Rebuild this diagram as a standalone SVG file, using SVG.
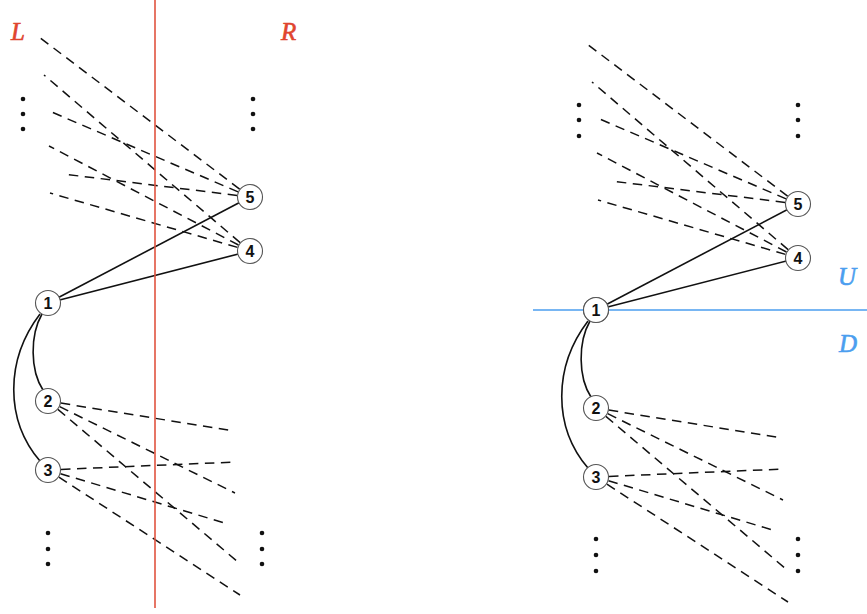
<svg xmlns="http://www.w3.org/2000/svg" width="867" height="614" viewBox="0 0 867 614">
<style>
.bg{fill:#ffffff}
.dash{fill:none;stroke:#111;stroke-width:1.5;stroke-dasharray:9.5 6.5}
.solid{fill:none;stroke:#111;stroke-width:1.6}
.node circle{fill:#fff;stroke:#555;stroke-width:1.1}
.node text{font-family:"Liberation Sans",Arial,sans-serif;font-weight:bold;font-size:16px;fill:#111;text-anchor:middle}
.dot{fill:#111}
.lab{font-family:"Liberation Serif","Times New Roman",serif;font-style:italic;font-size:25px;stroke-width:0.6}
.red{fill:#e0452f;stroke:#e0452f}
.blue{fill:#4b9eef;stroke:#4b9eef}
</style>
<defs>
<g id="graph">
<g id="connectors" class="connectors">
<path class="dash" d="M239.6,189.1 L39,37"/>
<path class="dash" d="M238.1,191.9 L47,110"/>
<path class="dash" d="M237.1,195.4 L63,174"/>
<path class="dash" d="M240.1,242.6 L44,75"/>
<path class="dash" d="M238.5,245 L49,146"/>
<path class="dash" d="M237.5,247.4 L50,193"/>
<path class="dash" d="M60.8,403.1 L234,431"/>
<path class="dash" d="M59.7,406.7 L235,493"/>
<path class="dash" d="M57.9,409.4 L238,562"/>
<path class="dash" d="M61,469.4 L236,462"/>
<path class="dash" d="M60.5,473.7 L228,524"/>
<path class="dash" d="M58.9,477.1 L240,595"/>
<path class="solid" d="M48,303 L250,197"/>
<path class="solid" d="M48,303 L250,251"/>
<path class="solid" d="M42,314 C30,335 30,370 43,390"/>
<path class="solid" d="M40,314 C5,360 5,420 40,461"/>
</g>
<g class="node"><circle cx="48" cy="303" r="12.5"/><text x="48" y="308.7">1</text></g>
<g class="node"><circle cx="48" cy="401" r="12.5"/><text x="48" y="406.7">2</text></g>
<g class="node"><circle cx="48" cy="470" r="12.5"/><text x="48" y="475.7">3</text></g>
<g class="node"><circle cx="250" cy="251" r="12.5"/><text x="250" y="256.7">4</text></g>
<g class="node"><circle cx="250" cy="197" r="12.5"/><text x="250" y="202.7">5</text></g>
</g>
</defs>
<rect class="bg" x="0" y="0" width="867" height="614"/>

<!-- Left panel -->
<g id="left-panel">
<use href="#graph"/>
<g id="left-dots">
<circle class="dot" cx="23" cy="99" r="2.3"/><circle class="dot" cx="23" cy="114" r="2.3"/><circle class="dot" cx="23" cy="129" r="2.3"/>
<circle class="dot" cx="253" cy="99" r="2.3"/><circle class="dot" cx="253" cy="114" r="2.3"/><circle class="dot" cx="253" cy="129" r="2.3"/>
<circle class="dot" cx="48" cy="533" r="2.3"/><circle class="dot" cx="48" cy="549" r="2.3"/><circle class="dot" cx="48" cy="564" r="2.3"/>
<circle class="dot" cx="262" cy="533" r="2.3"/><circle class="dot" cx="262" cy="549" r="2.3"/><circle class="dot" cx="262" cy="564" r="2.3"/>
</g>
<line id="cut-LR" x1="155" y1="0" x2="155" y2="608" stroke="#e0533f" stroke-width="1.6"/>
<text class="lab red" x="11" y="40">L</text>
<text class="lab red" x="281" y="40">R</text>
</g>

<!-- Right panel -->
<g id="right-panel">
<use href="#graph" transform="translate(548,7)"/>
<g id="right-dots">
<circle class="dot" cx="579" cy="105" r="2.3"/><circle class="dot" cx="579" cy="120" r="2.3"/><circle class="dot" cx="579" cy="136" r="2.3"/>
<circle class="dot" cx="798" cy="105" r="2.3"/><circle class="dot" cx="798" cy="120" r="2.3"/><circle class="dot" cx="798" cy="136" r="2.3"/>
<circle class="dot" cx="596" cy="539" r="2.3"/><circle class="dot" cx="596" cy="555" r="2.3"/><circle class="dot" cx="596" cy="571" r="2.3"/>
<circle class="dot" cx="798" cy="539" r="2.3"/><circle class="dot" cx="798" cy="555" r="2.3"/><circle class="dot" cx="798" cy="571" r="2.3"/>
</g>
<line id="cut-UD" x1="533" y1="310" x2="867" y2="310" stroke="#4b9eef" stroke-width="1.5"/>
<g id="r-node-1-front" class="node"><circle cx="596" cy="310" r="12.5"/><text x="596" y="315.7">1</text></g>
<text class="lab blue" x="838" y="285">U</text>
<text class="lab blue" x="839" y="352">D</text>
</g>
</svg>
